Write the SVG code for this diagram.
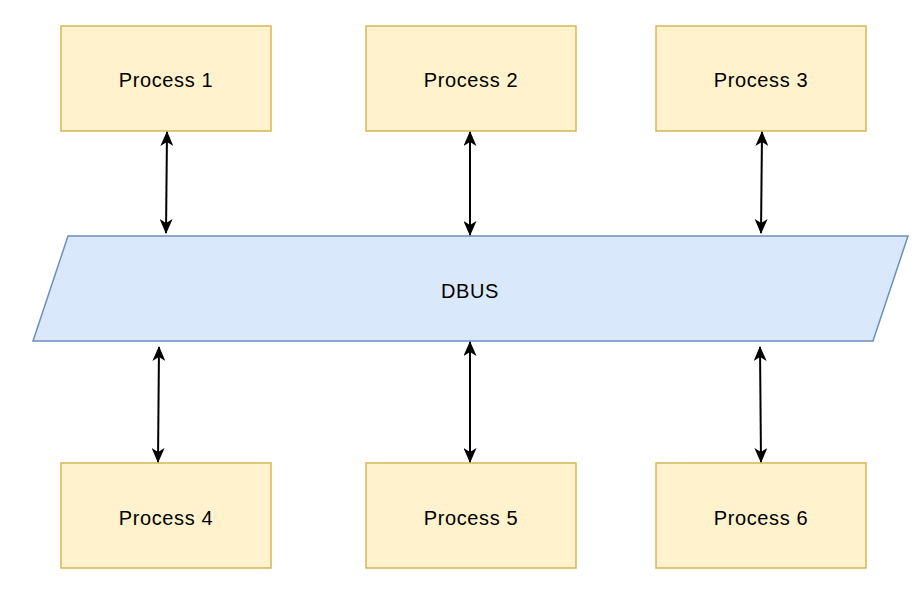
<svg xmlns="http://www.w3.org/2000/svg" width="923" height="590" viewBox="0 0 923 590">
<style>
.proc{fill:#fff2cc;stroke:#d6b656;stroke-width:1.5}
.bus{fill:#dae8fc;stroke:#6c8ebf;stroke-width:1.5}
.lbl{font-family:"Liberation Sans",Arial,sans-serif;font-size:20px;letter-spacing:0.6px;fill:#000;text-anchor:middle}
.edge{stroke:#000;stroke-width:2;fill:none;marker-start:url(#ah);marker-end:url(#ah)}
</style>
<defs>
<marker id="ah" viewBox="0 0 15 13" refX="14" refY="6.5" markerWidth="15" markerHeight="13" markerUnits="userSpaceOnUse" orient="auto-start-reverse">
<path d="M0,0 L15,6.5 L0,13 L4,6.5 Z" fill="#000"/>
</marker>
</defs>
<rect width="923" height="590" fill="#fff"/>
<g id="dbus">
<polygon class="bus" points="68,236 908,236 873,341 33,341"/>
<text class="lbl" x="470" y="298">DBUS</text>
</g>
<g id="p1"><rect class="proc" x="61" y="26" width="210" height="105"/><text class="lbl" x="166" y="87">Process 1</text></g>
<g id="p2"><rect class="proc" x="366" y="26" width="210" height="105"/><text class="lbl" x="471" y="87">Process 2</text></g>
<g id="p3"><rect class="proc" x="656" y="26" width="210" height="105"/><text class="lbl" x="761" y="87">Process 3</text></g>
<g id="p4"><rect class="proc" x="61" y="463" width="210" height="105"/><text class="lbl" x="166" y="525">Process 4</text></g>
<g id="p5"><rect class="proc" x="366" y="463" width="210" height="105"/><text class="lbl" x="471" y="525">Process 5</text></g>
<g id="p6"><rect class="proc" x="656" y="463" width="210" height="105"/><text class="lbl" x="761" y="525">Process 6</text></g>
<g id="connectors">
<line class="edge" x1="167" y1="132" x2="166" y2="233"/>
<line class="edge" x1="470" y1="132" x2="470" y2="235"/>
<line class="edge" x1="762" y1="132" x2="761" y2="233"/>
<line class="edge" x1="159" y1="347" x2="158" y2="462"/>
<line class="edge" x1="470" y1="342" x2="470" y2="462"/>
<line class="edge" x1="760" y1="347" x2="761" y2="462"/>
</g>
</svg>
